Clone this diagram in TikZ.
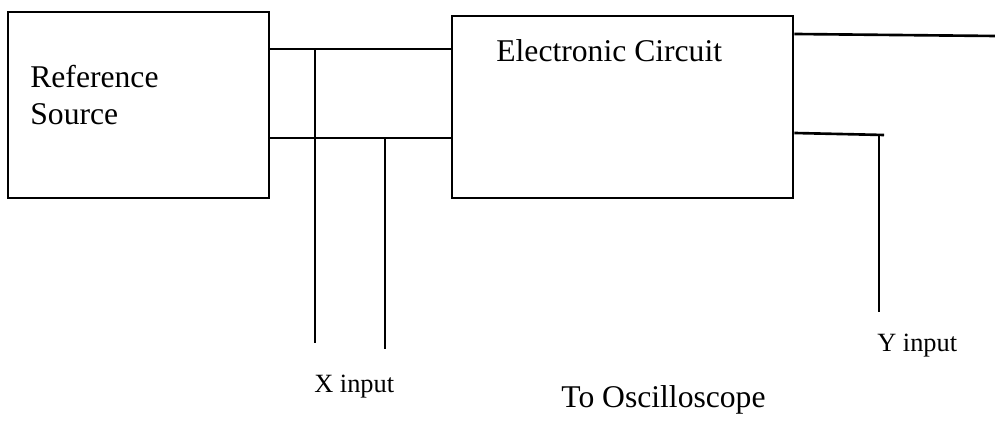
\documentclass[tikz,border=0pt]{standalone}
\usepackage{fontspec}
\setmainfont{Liberation Serif}
\usetikzlibrary{positioning,calc}
\tikzset{
  doboz/.style={draw,line width=1.5pt,inner sep=0pt},
  vez/.style={line width=1.5pt},
  nagyfel/.style={inner sep=0pt,font=\fontsize{18}{21}\selectfont},
  kisfel/.style={inner sep=0pt,font=\fontsize{15}{18}\selectfont},
}

\begin{document}
\begin{tikzpicture}
  \useasboundingbox (0,0) rectangle (19.9,8.44);
  \node[doboz,minimum width=5.22cm,minimum height=3.72cm] (forras) at (2.77,6.34) {};
  \node[doboz,minimum width=6.82cm,minimum height=3.64cm] (aramkor) at (12.45,6.30) {};
  \node[nagyfel,anchor=north west,align=left] (forrasfel) at (0.6,7.14) {Reference\\Source};
  \node[nagyfel,anchor=base west] (aramkorfel) at (9.92,7.20) {Electronic Circuit};
  % csatlakozasi pontok
  \coordinate (fel) at (6.30,7.46);
  \coordinate (le1) at (6.30,5.68);
  \coordinate (le2) at (7.70,5.68);
  \coordinate (xv1) at (6.30,1.58);
  \coordinate (xv2) at (7.70,1.46);
  \coordinate (kif) at (19.9,7.72);
  \coordinate (kia) at (17.68,5.74);
  \coordinate (yt) at (17.58,5.74);
  \coordinate (yv) at (17.58,2.20);
  \draw[vez] (forras.east |- fel) -- (aramkor.west |- fel);
  \draw[vez] (forras.east |- le1) -- (aramkor.west |- le1);
  \draw[vez] (fel) -- (xv1);
  \draw[vez] (le2) -- (xv2);
  \draw[vez] (aramkor.east |- 0,7.76) -- (kif);
  \draw[vez] (aramkor.east |- 0,5.78) -- (kia);
  \draw[vez] (yt) -- (yv);
  \node[kisfel,anchor=base west] (xfel) at (6.28,0.58) {X input};
  \node[kisfel,anchor=base west] (yfel) at (17.54,1.40) {Y input};
  \node[nagyfel,anchor=base west] (oszc) at (11.22,0.28) {To Oscilloscope};
\end{tikzpicture}
\end{document}
